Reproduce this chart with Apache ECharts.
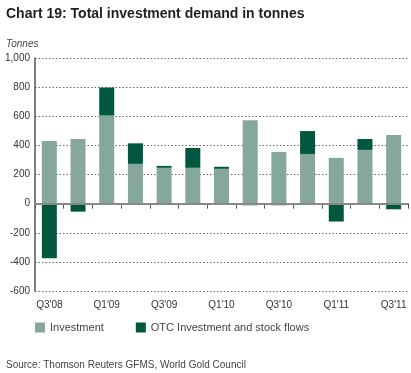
<!DOCTYPE html>
<html><head><meta charset="utf-8">
<script src="https://cdn.jsdelivr.net/npm/echarts@6/dist/echarts.min.js"></script>
<style>html,body{margin:0;padding:0;background:#fff}#c{width:411px;height:373px}</style>
</head><body><div id="c"></div>
<script>
const categories = ["Q3'08","Q4'08","Q1'09","Q2'09","Q3'09","Q4'09","Q1'10","Q2'10","Q3'10","Q4'10","Q1'11","Q2'11","Q3'11"];
const investment = [430, 444, 605, 273, 246, 246, 239, 573, 355, 341, 314, 369, 471];
const otc = [-375, -55, 192, 141, 13, 136, 14, -11, -11, 157, -123, 75, -39];
const yTicks = [-600, -400, -200, 0, 200, 400, 600, 800, 1000];

const chart = echarts.init(document.getElementById('c'));
const font = 'Arial, "Liberation Sans", sans-serif';
chart.setOption({
  animation: false,
  textStyle: { fontFamily: font },
  title: [
    { text: 'Chart 19: Total investment demand in tonnes', left: 1, top: 2,
      textStyle: { fontSize: 14, fontWeight: 'bold', color: '#222', fontFamily: font } },
    { text: 'Tonnes', left: 1, top: 34,
      textStyle: { fontSize: 10, fontStyle: 'italic', fontWeight: 'normal', color: '#444', fontFamily: font } },
    { text: 'Source: Thomson Reuters GFMS, World Gold Council', left: 1, top: 355,
      textStyle: { fontSize: 10, fontWeight: 'normal', color: '#444', fontFamily: font } }
  ],
  legend: {
    left: 30, top: 317, itemWidth: 10, itemHeight: 10, itemGap: 32,
    icon: 'rect',
    textStyle: { fontSize: 11, color: '#444', fontFamily: font },
    data: ['Investment', 'OTC Investment and stock flows']
  },
  grid: { left: 35, right: 3, top: 58, bottom: 82 },
  xAxis: {
    type: 'category', data: categories,
    axisLine: { lineStyle: { color: '#888', width: 2 } },
    axisTick: { show: true, length: 5, interval: 0, lineStyle: { color: '#555' } },
    axisLabel: { interval: 1, fontSize: 10, color: '#333', margin: 9, fontFamily: font },
    splitLine: { show: false }
  },
  yAxis: {
    type: 'value', min: -600, max: 1000, interval: 200,
    axisLine: { show: true, lineStyle: { color: '#555', width: 1.5 } },
    axisTick: { show: false },
    axisLabel: { fontSize: 10, color: '#333', margin: 5, fontFamily: font,
      formatter: v => yTicks.includes(v) ? (v >= 1000 ? '1,000' : String(v)) : '' },
    splitLine: { show: true, lineStyle: { color: '#666', type: [1.5, 2], width: 1 } }
  },
  series: [
    { name: 'Investment', type: 'bar', stack: 't', data: investment, barWidth: 15,
      itemStyle: { color: '#85A89A' },
      markLine: { silent: true, symbol: 'none', label: { show: false },
        lineStyle: { color: '#888', width: 2, type: 'solid' }, data: [{ yAxis: 0 }] } },
    { name: 'OTC Investment and stock flows', type: 'bar', stack: 't', data: otc, barWidth: 15,
      itemStyle: { color: '#00573F' } }
  ]
});
</script></body></html>
